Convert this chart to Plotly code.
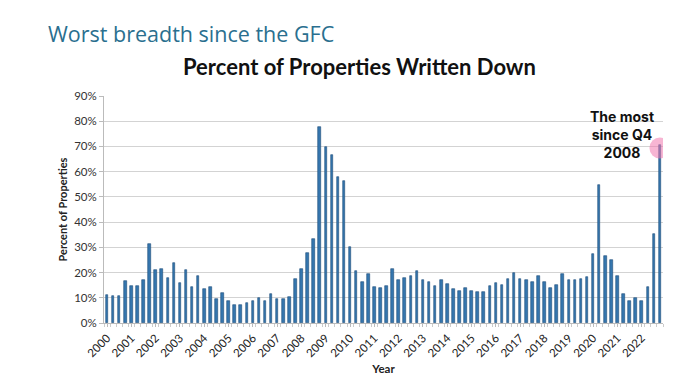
import plotly.graph_objects as go

years = [str(y) for y in range(2000, 2023)]
quarters = [f"{y} Q{q}" for y in range(2000, 2023) for q in range(1, 5)]
pct_written_down = [
    11.2, 10.8, 10.6, 16.6, 14.8, 14.8, 17.2, 31.4,
    21.1, 21.6, 17.9, 23.9, 15.8, 21.0, 14.2, 18.5,
    13.5, 14.2, 9.6, 12.0, 8.7, 7.3, 7.3, 7.8,
    8.7, 9.8, 8.8, 11.5, 9.5, 9.5, 10.2, 17.4,
    21.5, 27.6, 33.4, 77.8, 69.8, 66.8, 57.9, 56.3,
    30.2, 20.7, 16.2, 19.3, 14.2, 14.0, 14.8, 21.5,
    16.9, 17.8, 18.6, 20.7, 17.2, 16.4, 14.5, 17.2,
    15.3, 13.5, 12.5, 14.0, 12.7, 12.4, 12.4, 14.6,
    15.8, 15.0, 17.5, 19.8, 17.5, 16.9, 16.1, 18.6,
    16.1, 14.0, 15.0, 19.5, 16.9, 17.2, 17.5, 18.2,
    27.4, 54.7, 26.5, 24.9, 18.5, 11.5, 8.8, 9.8,
    8.7, 14.2, 35.4, 70.6,
]
y_ticks = [0, 10, 20, 30, 40, 50, 60, 70, 80, 90]
y_tick_labels = [f"{v}%" for v in y_ticks]

idx = list(range(len(pct_written_down)))
year_tick_pos = [i for i in idx if i % 4 == 0]

fig = go.Figure()
fig.add_trace(go.Bar(
    x=idx, y=pct_written_down, width=0.42,
    marker=dict(color="#3576ae", line=dict(color="#1f4e79", width=0.6)),
    customdata=quarters, hovertemplate="%{customdata}: %{y}%<extra></extra>",
))
last = len(pct_written_down) - 1
fig.add_trace(go.Scatter(
    x=[last], y=[pct_written_down[last] - 1.2], mode="markers",
    marker=dict(size=21, color="rgba(240,120,175,0.55)", line=dict(width=0)),
    hoverinfo="skip",
))

font_main = "Lato, 'Open Sans', sans-serif"
T, B, L, R = 96, 69, 104, 37
PH = 392 - T - B
PW = 700 - L - R

fig.update_layout(
    width=700, height=392,
    margin=dict(l=L, r=R, t=T, b=B),
    paper_bgcolor="white", plot_bgcolor="white",
    showlegend=False,
    font=dict(family=font_main, color="#222"),
    bargap=0,
)
fig.update_xaxes(
    range=[-0.5, len(pct_written_down) - 0.5],
    tickmode="array", tickvals=year_tick_pos, ticktext=years,
    tickangle=-45, tickfont=dict(size=11.5, color="#222"),
    ticks="outside", ticklen=3, tickcolor="#bbb",
    minor=dict(tickmode="linear", tick0=0.5, dtick=1, ticks="outside", ticklen=3, tickcolor="#ccc"),
    showline=True, linecolor="#bbb", linewidth=1,
    showgrid=False, zeroline=False, automargin=False,
    title=dict(text="<b>Year</b>", font=dict(size=11.5, color="#222"), standoff=6),
)
fig.update_yaxes(
    range=[0, 90], tickmode="array", tickvals=y_ticks, ticktext=y_tick_labels,
    tickfont=dict(size=11.5, color="#333"),
    ticks="outside", ticklen=4, tickcolor="#bbb",
    showline=True, linecolor="#bbb", linewidth=1,
    showgrid=True, gridcolor="#d3d3d3", gridwidth=1,
    zeroline=False, automargin=False,
    title=dict(text="<b>Percent of Properties</b>", font=dict(size=11, color="#222"), standoff=4),
)

fig.add_annotation(
    xref="paper", yref="paper", x=(46 - L) / PW, y=(392 - B - 33) / PH,
    text="Worst breadth since the GFC", showarrow=False,
    xanchor="left", yanchor="middle",
    font=dict(size=21.5, color="#2a6f8f", family="'Open Sans', sans-serif"),
)
fig.add_annotation(
    xref="paper", yref="paper", x=(359 - L) / PW, y=(392 - B - 67) / PH,
    text="<b>Percent of Properties Written Down</b>", showarrow=False,
    xanchor="center", yanchor="middle",
    font=dict(size=22, color="#111", family=font_main),
)
fig.add_annotation(
    xref="x", yref="y", x=84.8, y=74.8,
    text="<b>The most<br>since Q4<br>2008</b>", showarrow=False,
    xanchor="center", yanchor="middle",
    font=dict(size=14, color="#111", family="Inter, sans-serif"),
)

fig.write_html("out.html", post_script="document.body.style.margin='0';",
               config={"displayModeBar": False})
